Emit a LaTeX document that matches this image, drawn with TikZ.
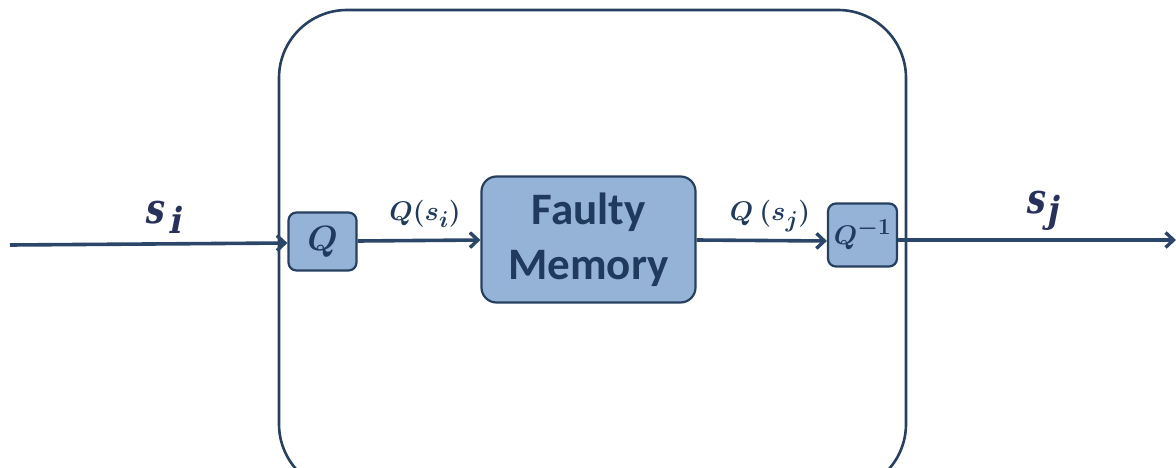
\RequirePackage{fix-cm}
\documentclass[tikz,border=0pt]{standalone}
\usepackage{fontspec}
\usepackage{amsmath,bm}
\setmainfont{Carlito}
\newfontfamily\sigfont{DejaVu Serif}[FakeSlant=0.22]
\usetikzlibrary{arrows.meta}
\definecolor{boxfill}{HTML}{95B3D7}
\definecolor{boxline}{HTML}{27405F}
\definecolor{wire}{HTML}{2B4669}
\definecolor{ink}{HTML}{1F3A5C}
\definecolor{sigink}{HTML}{28305C}
% bold indices set nearly at full size
\newcommand\bsub[1]{_{\scalebox{0.85}{$\bm{#1}$}}}
\newcommand\bsup[1]{^{\scalebox{0.85}{$\bm{#1}$}}}
% large signal name: gap, index, index drop
\newcommand\signame[3]{%
  \scalebox{0.8}[1]{\fontsize{42}{46}\selectfont s}\kern#1%
  \raisebox{#3}{\scalebox{0.9}[1]{\fontsize{36}{40}\selectfont #2}}}
\tikzset{
  x=1pt, y=-1pt,
  blk/.style={draw=boxline, fill=boxfill, line width=2.2pt, inner sep=0pt, text=ink},
  wirearrow/.style={draw=wire, line width=3.6pt,
    -{Straight Barb[length=8pt,width=15pt,line width=3.4pt]}},
  lbl/.style={text=ink, inner sep=0pt, font=\fontsize{27}{30}\selectfont},
  siglbl/.style={text=sigink, inner sep=0pt, font=\sigfont\bfseries}
}
\begin{document}
\begin{tikzpicture}
  \useasboundingbox (0,0) rectangle (1176,468);
  % enclosing frame
  \draw[boxline, line width=2.6pt, rounded corners=68pt] (279,10) rectangle (906,492);
  % blocks
  \node[blk, rounded corners=8pt, minimum width=68pt, minimum height=58pt,
        font=\fontsize{27}{30}\selectfont] (q) at (322.5,241.5)
        {\raisebox{-3pt}{\scalebox{1.3}{$\bm{Q}$}}};
  \node[blk, rounded corners=15pt, minimum width=214pt, minimum height=126pt, align=center,
        font=\fontsize{45}{55}\selectfont\bfseries] (fm) at (588.5,239.5) {Faulty\\Memory};
  \node[blk, rounded corners=8pt, minimum width=69pt, minimum height=63pt,
        font=\fontsize{27}{30}\selectfont] (qi) at (862.5,235) {\raisebox{-4pt}{$\bm{Q}\bsup{-1}$}};
  % signal endpoints
  \coordinate (in) at (10,245);
  \coordinate (out) at (1176,240);
  % connectors
  \draw[wirearrow] (in) -- (q.west |- 0,243);
  \draw[wirearrow] (q.east |- 0,241) -- (fm.west |- 0,240);
  \draw[wirearrow] (fm.east |- 0,240) -- (qi.west |- 0,241);
  \draw[wirearrow] (qi.east |- 0,240) -- (out);
  % labels
  \node[siglbl] (lsi) at (163,217) {\signame{5pt}{i}{-10pt}};
  \node[lbl] (lqsi) at (425,214) {$\bm{Q(s}\bsub{i}\bm{)}$};
  \node[lbl] (lqsj) at (770,216) {$\bm{Q\ (s}\bsub{j}\bm{)}$};
  \node[siglbl] (lsj) at (1042,211) {\signame{2pt}{j}{-9pt}};
\end{tikzpicture}
\end{document}
